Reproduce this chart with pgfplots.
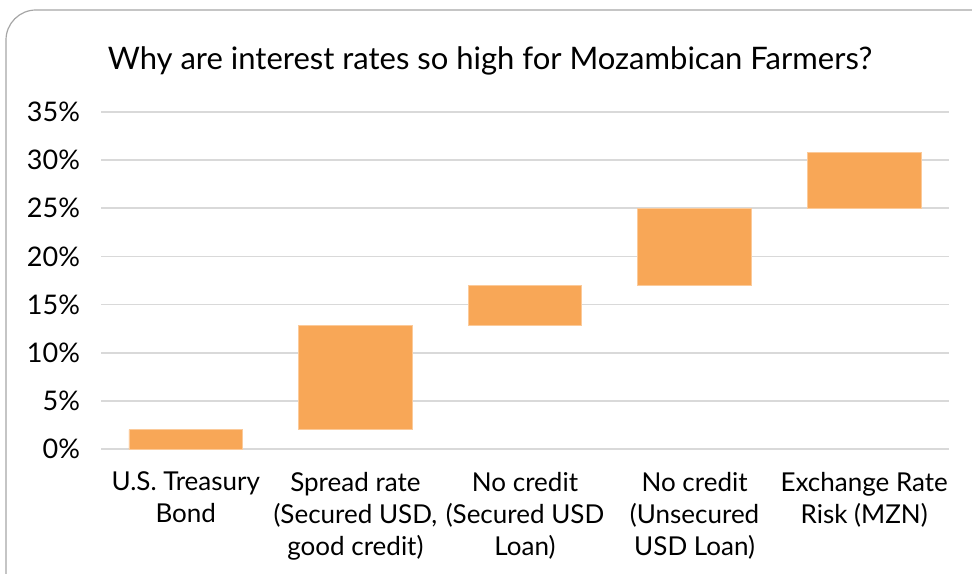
\documentclass[border=0pt]{standalone}
\usepackage{fontspec}
\setmainfont{Lato}
\usepackage{pgfplots}
\pgfplotsset{compat=1.18}

\definecolor{barorange}{HTML}{F8A757}
\definecolor{gridgray}{HTML}{D9D9D9}
\definecolor{framegray}{HTML}{A6A6A6}

\begin{document}
\begin{tikzpicture}
\useasboundingbox (0,0) rectangle (486pt,286.5pt);
\begin{scope}
  \clip (0,0) rectangle (486pt,286.5pt);
  \draw[framegray, line width=0.6pt, rounded corners=15pt] (3pt,-20pt) rectangle (505pt,281.5pt);
\end{scope}
\node[anchor=base, font=\fontsize{15.5}{18}\selectfont] at (245pt,251.5pt)
  {Why are interest rates so high for Mozambican Farmers?};
\begin{axis}[
    at={(50.5pt,62pt)}, anchor=south west,
    width=424pt, height=168.5pt, scale only axis,
    ybar stacked, bar width=0.67,
    xmin=-0.5, xmax=4.5, ymin=0, ymax=35,
    xtick={0,1,2,3,4},
    xticklabels={{U.S. Treasury\\Bond},{Spread rate\\(Secured USD,\\good credit)},{No credit\\(Secured USD\\Loan)},{No credit\\(Unsecured\\USD Loan)},{Exchange Rate\\Risk (MZN)}},
    xticklabel style={align=center, font=\fontsize{13}{16}\selectfont, yshift=-8pt},
    ytick={0,5,...,35},
    yticklabel={\pgfmathprintnumber{\tick}\%},
    yticklabel style={font=\fontsize{13.5}{15}\selectfont, xshift=-7pt},
    /pgf/number format/assume math mode=true,
    ymajorgrids, grid style={gridgray, line width=0.8pt},
    axis line style={draw=none},
    major tick length=0,
    clip=false,
]
% invisible base of each floating bar
\addplot[draw=none, fill=none] coordinates {(0,0) (1,2) (2,12.8) (3,17) (4,25)};
% visible segment
\addplot[fill=barorange, draw=barorange!60!white, line width=0.4pt] coordinates {(0,2) (1,10.8) (2,4.2) (3,8) (4,5.8)};
\end{axis}
\end{tikzpicture}
\end{document}
